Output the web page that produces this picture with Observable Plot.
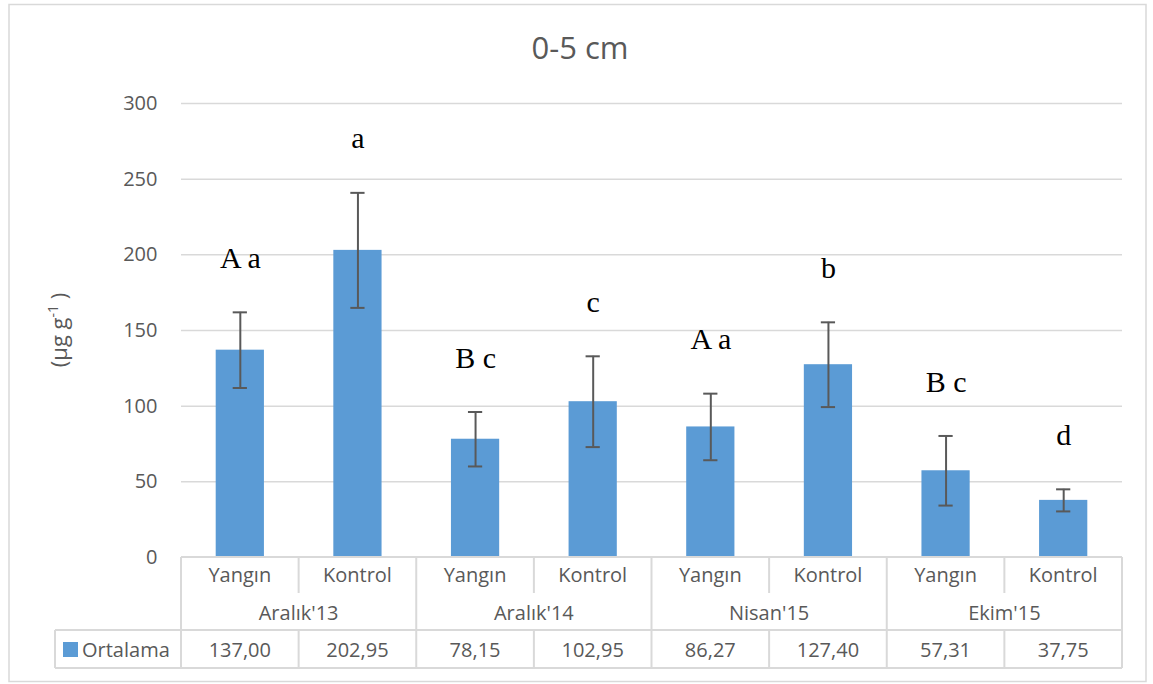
<!DOCTYPE html>
<html>
<head>
<meta charset="utf-8">
<script src="https://cdn.jsdelivr.net/npm/d3@7"></script>
<script src="https://cdn.jsdelivr.net/npm/@observablehq/plot@0.6"></script>
<style>
  html, body { margin: 0; padding: 0; background: #fff; }
  #chart { width: 1153px; height: 684px; }
</style>
</head>
<body>
<div id="chart"></div>
<script>
// ---- data ----
const title = "0-5 cm";
const periods = ["Aralık'13", "Aralık'14", "Nisan'15", "Ekim'15"];
const treatments = ["Yangın", "Kontrol"];
const means = [137.00, 202.95, 78.15, 102.95, 86.27, 127.40, 57.31, 37.75];
const errors = [25, 38, 18, 30, 22, 28, 23, 7.3];
const letters = ["A a", "a", "B c", "c", "A a", "b", "B c", "d"];
const yTicks = [0, 50, 100, 150, 200, 250, 300];
const seriesName = "Ortalama";

// ---- table for Plot ----
const data = means.map((v, i) => ({
  key: periods[Math.floor(i / 2)] + "|" + treatments[i % 2],
  period: periods[Math.floor(i / 2)],
  treatment: treatments[i % 2],
  value: v,
  err: errors[i],
  letter: letters[i],
  label: v.toFixed(2).replace(".", ",")
}));
const keys = data.map(d => d.key);

const grey = "#595959";
const lineCol = "#d9d9d9";
const barCol = "#5B9BD5";

const chart = Plot.plot({
  width: 1153,
  height: 684,
  marginTop: 103,
  marginBottom: 127,
  marginLeft: 181,
  marginRight: 31,
  style: {fontFamily: "'Open Sans', sans-serif", fontSize: "20px", color: grey, background: "#fff", overflow: "visible"},
  x: {domain: keys, paddingInner: 0.59, paddingOuter: 0.295, round: false, axis: null},
  y: {domain: [0, 300], ticks: yTicks},
  marks: [
    Plot.gridY(yTicks.filter(t => t > 0), {stroke: lineCol, strokeOpacity: 1, strokeWidth: 1.5}),
    Plot.axisY(yTicks, {tickSize: 0, tickPadding: 24, fontSize: 20, fill: grey, label: null}),
    Plot.barY(data, {x: "key", y: "value", fill: barCol}),
    Plot.ruleX(data, {x: "key", y1: d => d.value - d.err, y2: d => d.value + d.err, stroke: grey, strokeWidth: 2}),
    Plot.tickY(data, {x: "key", y: d => d.value + d.err, stroke: grey, strokeWidth: 2, insetLeft: 17, insetRight: 17}),
    Plot.tickY(data, {x: "key", y: d => d.value - d.err, stroke: grey, strokeWidth: 2, insetLeft: 17, insetRight: 17}),
    Plot.text(data, {x: "key", y: d => d.value + d.err, text: "letter", dy: -54,
      fontFamily: "'Liberation Serif', 'Times New Roman', serif", fontSize: 30, fill: "#000"})
  ]
});
document.getElementById("chart").appendChild(chart);

// ---- decorations and data table, positioned with Plot's scales ----
const svg = d3.select(chart);
const xs = chart.scale("x");
const ys = chart.scale("y");
const bw = xs.bandwidth;
const step = xs.step;
const cellL = k => xs.apply(k) + bw / 2 - step / 2;
const x0 = cellL(keys[0]);
const x1 = cellL(keys[keys.length - 1]) + step;
const y0 = ys.apply(0);

const g = svg.append("g").attr("text-anchor", "start");
// outer chart border
g.append("rect").attr("x", 9).attr("y", 4.5).attr("width", 1137).attr("height", 677)
  .attr("fill", "none").attr("stroke", lineCol).attr("stroke-width", 1.5);

// title
g.append("text").attr("x", 580).attr("y", 59).attr("text-anchor", "middle")
  .attr("font-size", 31).attr("fill", grey).text(title);

// y label
const yl = g.append("text").attr("transform", "translate(67,330) rotate(-90)")
  .attr("text-anchor", "middle").attr("font-size", 22).attr("fill", grey);
yl.append("tspan").text("(µg g");
yl.append("tspan").attr("font-size", 14).attr("dy", -9).text("-1");
yl.append("tspan").attr("dy", 9).text(" )");

// table rows
const rSub = y0 + 36, rData = y0 + 73, rEnd = y0 + 111;
const leftCell = 55;
const line = (xa, ya, xb, yb) => g.append("line").attr("x1", xa).attr("y1", ya).attr("x2", xb).attr("y2", yb)
  .attr("stroke", lineCol).attr("stroke-width", 2);
line(x0, y0, x1, y0);
line(leftCell, rData, x1, rData);
line(leftCell, rEnd, x1, rEnd);
line(leftCell, rData, leftCell, rEnd);
line(x0, y0, x0, rEnd);
line(x1, y0, x1, rEnd);
data.forEach((d, i) => {
  if (i === 0) return;
  const xl = cellL(d.key);
  if (i % 2 === 1) { line(xl, y0, xl, rSub); line(xl, rData, xl, rEnd); }
  else line(xl, y0, xl, rEnd);
});
// sub labels and values
data.forEach(d => {
  const cx = xs.apply(d.key) + bw / 2;
  g.append("text").attr("x", cx).attr("y", y0 + 25).attr("text-anchor", "middle").attr("font-size", 20).attr("fill", grey).text(d.treatment);
  g.append("text").attr("x", cx).attr("y", y0 + 100).attr("text-anchor", "middle").attr("font-size", 20).attr("fill", grey).text(d.label);
});
// group labels
periods.forEach(p => {
  const ks = data.filter(d => d.period === p).map(d => d.key);
  const cx = (cellL(ks[0]) + cellL(ks[ks.length - 1]) + step) / 2;
  g.append("text").attr("x", cx).attr("y", y0 + 63).attr("text-anchor", "middle").attr("font-size", 20).attr("fill", grey).text(p);
});
// legend cell
g.append("rect").attr("x", 63).attr("y", rData + 12).attr("width", 15).attr("height", 15).attr("fill", barCol);
g.append("text").attr("x", 82).attr("y", y0 + 100).attr("text-anchor", "start").attr("font-size", 20).attr("fill", grey).text(seriesName);
</script>
</body>
</html>
